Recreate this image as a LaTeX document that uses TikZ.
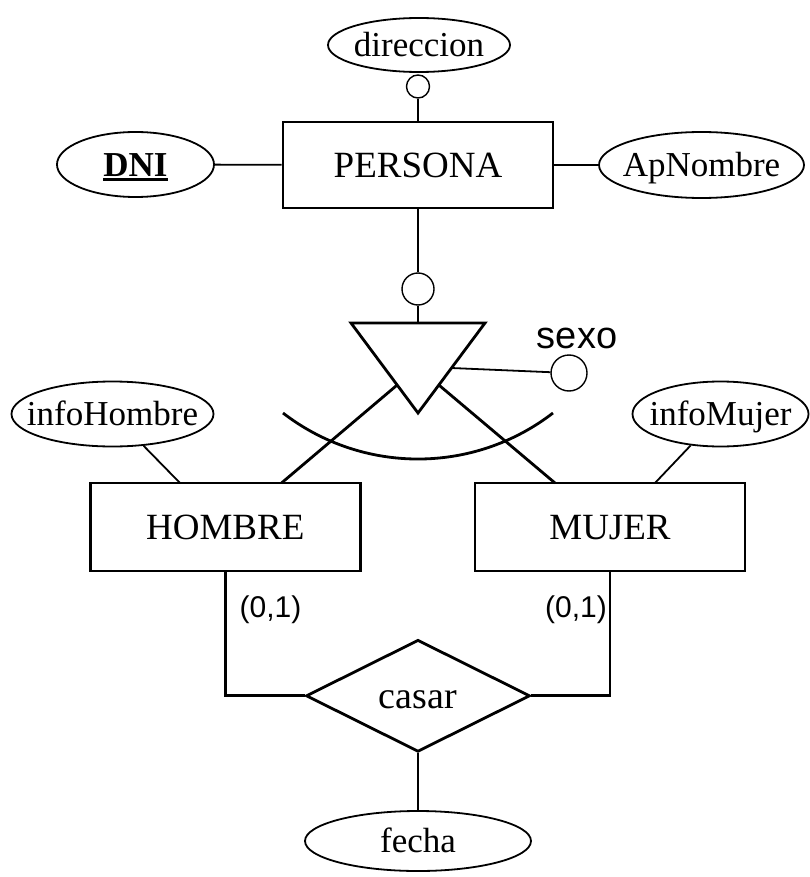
\documentclass[tikz,border=0pt]{standalone}
\usepackage{fontspec}
\setmainfont{Liberation Serif}
\setsansfont{Liberation Sans}
\usetikzlibrary{shapes.geometric,calc}

% text of zero size, centred on the node centre, so the shape keeps its given size
\newcommand\ctext[1]{\makebox[0pt]{\raisebox{-0.34em}[0pt][0pt]{#1}}}
% key attribute: bold and underlined with a heavy rule
\newlength\keyw
\newcommand\keyattr[1]{\settowidth{\keyw}{\textbf{#1}}\textbf{#1}\hspace{-\keyw}\rule[-5pt]{\keyw}{3pt}}

\tikzset{
  entity/.style={draw, line width=2.6pt, rectangle, inner sep=0pt,
    minimum width=270pt, minimum height=88pt, font=\fontsize{37}{40}\selectfont},
  attr/.style={draw, line width=1.8pt, ellipse, inner sep=0pt,
    font=\fontsize{35}{40}\selectfont},
  rel/.style={draw, line width=2.8pt, diamond, inner sep=0pt, line join=miter,
    minimum width=224pt, minimum height=112pt, font=\fontsize{38}{40}\selectfont},
  opt/.style={draw, circle, line width=1.4pt, inner sep=0pt},
  link/.style={line width=1.8pt},
  heavy/.style={line width=2.8pt},
  card/.style={font=\sffamily\fontsize{30}{34}\selectfont, inner sep=0pt},
}

\begin{document}
\begin{tikzpicture}[x=1pt,y=-1pt]
\useasboundingbox (0,0) rectangle (810,877);
\fill[white] (0,0) rectangle (810,877);

% PERSONA and its attributes
\node[entity, minimum height=86pt] (persona) at (418,165) {\ctext{PERSONA}};
\node[attr, minimum width=182pt, minimum height=54pt] (dir) at (419,45) {\ctext{direccion}};
\node[opt, minimum size=23pt] (cdir) at (418,86.5) {};
\node[attr, minimum width=157pt, minimum height=65pt] (dni) at (135.5,164.5) {\ctext{\keyattr{DNI}}};
\node[attr, minimum width=205pt, minimum height=66pt] (apn) at (701.5,165) {\ctext{ApNombre}};
\draw[link] (dni) -- (persona);
\draw[link] (persona) -- (apn);
\draw[link] (cdir) -- (persona);

% generalisation triangle
\coordinate (tl) at (351,323);
\coordinate (tr) at (485,323);
\coordinate (ta) at (418,413);
\coordinate (tt) at (418,323);
\draw[heavy, line join=miter] (tl) -- (tr) -- (ta) -- cycle;
\node[opt, minimum size=32pt] (cgen) at (418,289) {};
\draw[heavy] (persona) -- (cgen);
\draw[heavy] (cgen) -- (tt);

% discriminator
\node[opt, minimum size=36pt] (csexo) at (569,373) {};
\node[font=\sffamily\fontsize{38}{40}\selectfont, inner sep=0pt, anchor=base] (sexo) at (577,348) {sexo};
\coordinate (tS) at ($(tr)!0.5!(ta)$);
\draw[link] (tS) -- (csexo);

% disjointness arc
\coordinate (arcL) at (283,413);
\draw[heavy] (arcL) arc[start angle=232.35, end angle=307.65, radius=221pt];

% subtypes
\node[entity] (hombre) at (225.3,527) {\ctext{HOMBRE}};
\node[entity] (mujer) at (610,527) {\ctext{MUJER}};
\coordinate (tL) at ($(tl)!0.689!(ta)$);
\coordinate (tR) at ($(tr)!0.689!(ta)$);
\coordinate (hN) at (281.5,483);
\coordinate (mN) at (555,483);
\draw[heavy] (tL) -- (hN);
\draw[heavy] (tR) -- (mN);

\node[attr, minimum width=202pt, minimum height=65pt] (ih) at (112.5,414) {\ctext{infoHombre}};
\node[attr, minimum width=176pt, minimum height=65pt] (im) at (720.5,414) {\ctext{infoMujer}};
\coordinate (hA) at (180,483);
\coordinate (mA) at (655,483);
\draw[link] (ih) -- (hA);
\draw[link] (im) -- (mA);

% relationship casar
\node[rel] (casar) at (418,695.8) {\ctext{casar}};
\draw[heavy] (hombre.south) |- (casar.west);
\draw[heavy] (mujer.south) |- (casar.east);
\node[card] (k1) at (270.5,610) {(0,1)};
\node[card] (k2) at (576,610) {(0,1)};
\node[attr, minimum width=226pt, minimum height=60pt] (fecha) at (418,841) {\ctext{fecha}};
\draw[link] (casar) -- (fecha);
\end{tikzpicture}
\end{document}
